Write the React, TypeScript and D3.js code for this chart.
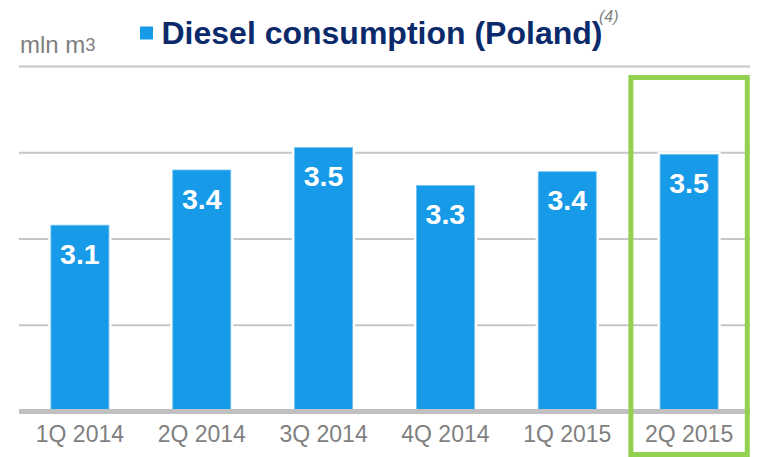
import React from "react";
import * as d3 from "d3";

const categories = ["1Q 2014", "2Q 2014", "3Q 2014", "4Q 2014", "1Q 2015", "2Q 2015"];
const values = [3.08, 3.4, 3.53, 3.31, 3.39, 3.49];
const valueLabels = ["3.1", "3.4", "3.5", "3.3", "3.4", "3.5"];
const gridTicks = [2.5, 3.0, 3.5, 4.0];
const yDomain = [2.0, 4.0];
const highlighted = "2Q 2015";
const title = "Diesel consumption (Poland)";
const footnote = "(4)";
const unitLabel = "mln m";
const unitSup = "3";

const W = 757;
const H = 457;
const BAR = "#179be8";
const NAVY = "#0b2a6b";
const GRAY = "#7f7f7f";
const GRID = "#c6c6c6";
const GREEN = "#92d050";
const FONT = "'Liberation Sans', Arial, sans-serif";

export default function App() {
  const x = d3
    .scaleBand<string>()
    .domain(categories)
    .range([19, 750])
    .paddingInner(0.524)
    .paddingOuter(0.262);
  const y = d3.scaleLinear().domain(yDomain).range([411.5, 66.5]);
  const base = y(yDomain[0]);
  const bw = x.bandwidth();
  const hx = x(highlighted)!;

  return (
    <svg
      width={W}
      height={H}
      style={{ position: "absolute", left: 0, top: 0, background: "#fff" }}
      fontFamily={FONT}
    >
      {/* gridlines */}
      {gridTicks.map((t) => (
        <line key={t} x1={19} x2={750} y1={y(t)} y2={y(t)} stroke={GRID} strokeWidth={2} />
      ))}
      {/* bars */}
      {categories.map((c, i) => (
        <g key={c}>
          <rect
            x={x(c)! - 2.6}
            y={y(values[i]) - 2.6}
            width={bw + 5.2}
            height={base - y(values[i]) + 2.6}
            fill="#fff"
          />
          <rect
            x={x(c)!}
            y={y(values[i])}
            width={bw}
            height={base - y(values[i])}
            fill={BAR}
            stroke="#6fc0f0"
            strokeWidth={0.8}
          />
          <text
            x={x(c)! + bw / 2}
            y={y(values[i]) + 38.5}
            textAnchor="middle"
            fill="#fff"
            fontWeight="bold"
            fontSize={28.5}
          >
            {valueLabels[i]}
          </text>
          <text
            x={x(c)! + bw / 2}
            y={441.5}
            textAnchor="middle"
            fill={GRAY}
            fontSize={23}
          >
            {c}
          </text>
        </g>
      ))}
      {/* baseline */}
      <line x1={19} x2={750} y1={base} y2={base} stroke="#c0c0c0" strokeWidth={5} />
      {/* highlight box */}
      <rect
        x={hx - 29.2}
        y={77.5}
        width={bw + 62.4 - 4}
        height={377}
        fill="none"
        stroke={GREEN}
        strokeWidth={5}
      />
      {/* unit label */}
      <text x={20} y={53.3} fill={GRAY} fontSize={24}>
        {unitLabel}
        <tspan fontSize={18.5} dy={-2.8}>{unitSup}</tspan>
      </text>
      {/* title */}
      <rect x={140} y={26.5} width={13} height={13} fill={BAR} />
      <text x={161.5} y={43.5} fill={NAVY} fontWeight="bold" fontSize={32}>
        {title}
      </text>
      <text x={599} y={22} fill={GRAY} fontStyle="italic" fontSize={16}>
        {footnote}
      </text>
    </svg>
  );
}
